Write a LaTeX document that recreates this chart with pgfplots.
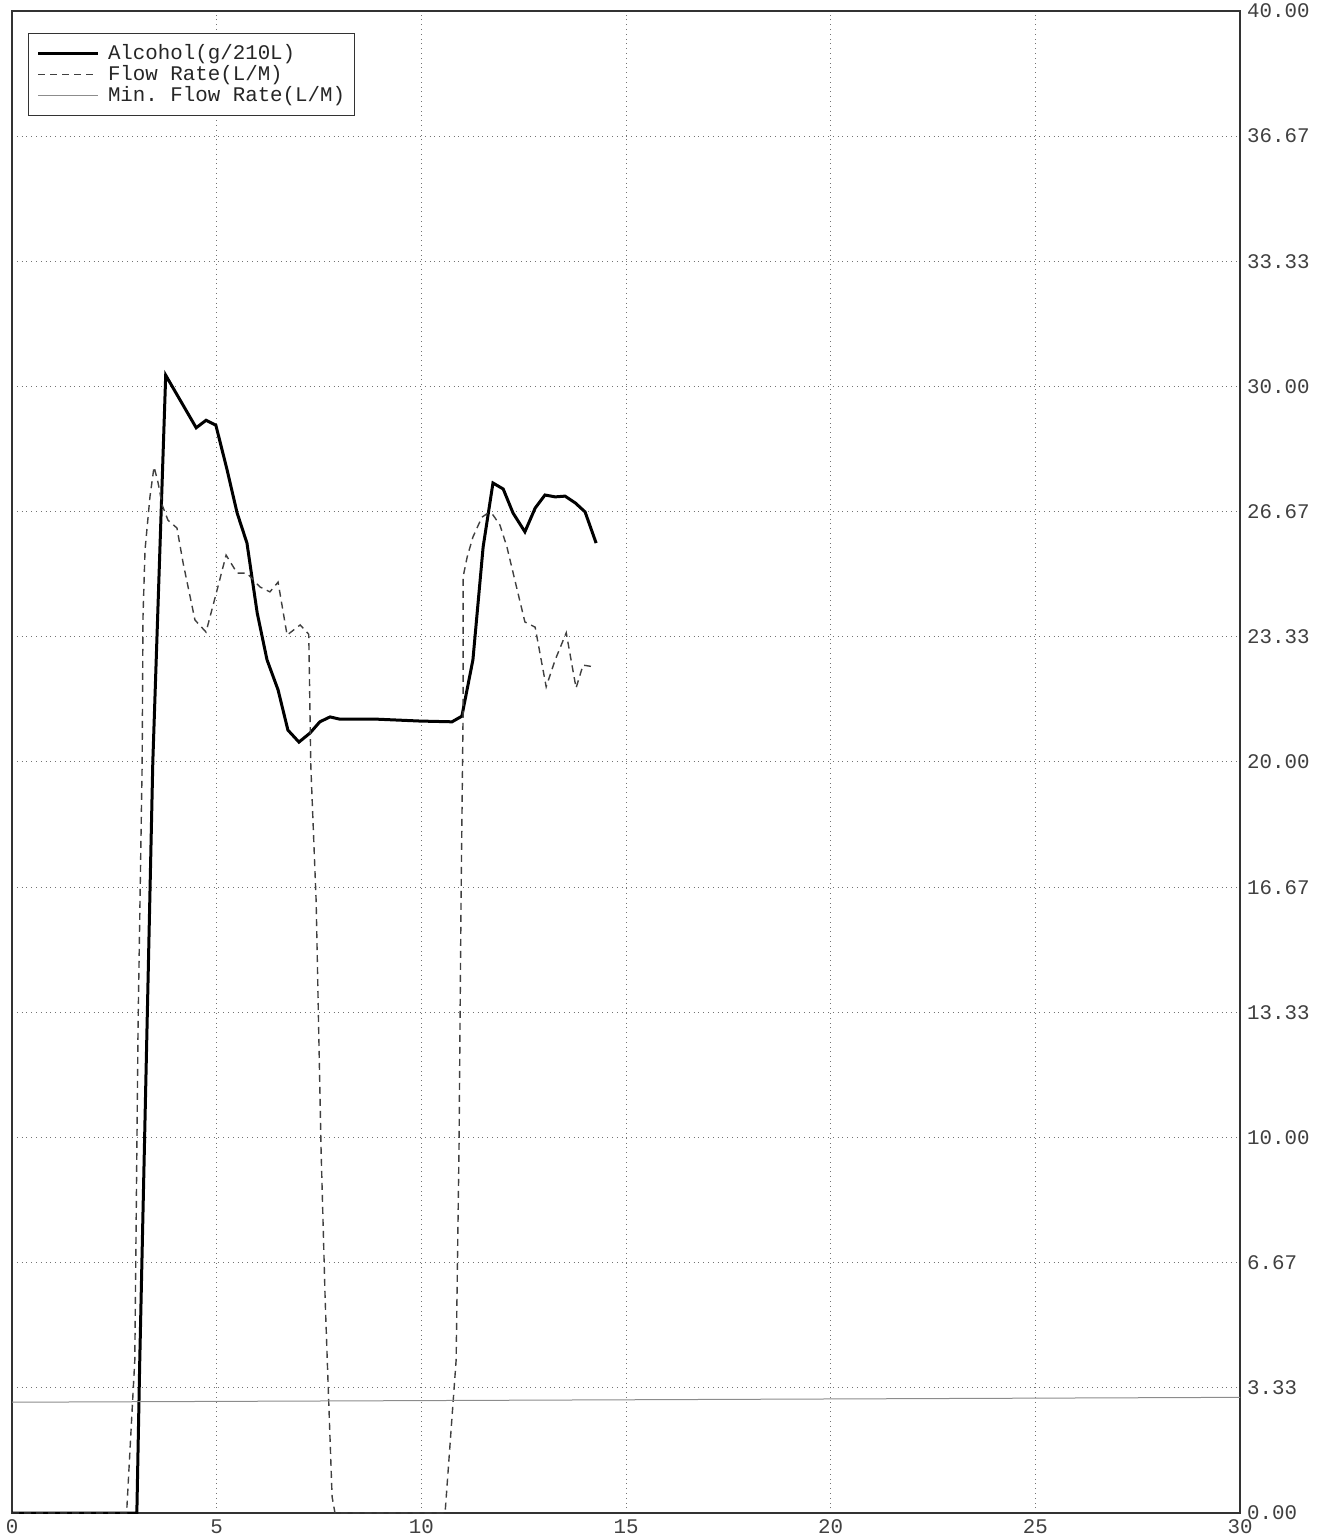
\documentclass[border=0pt]{standalone}
\usepackage{fontspec}
\setmainfont{Liberation Mono}
\setmonofont{Liberation Mono}
\usepackage{pgfplots}
\pgfplotsset{compat=1.18}
\begin{document}
\begin{tikzpicture}
\begin{axis}[name=ax,
  scale only axis, width=614pt, height=751pt,
  xmin=0, xmax=30, ymin=0, ymax=40,
  xtick={0,5,10,15,20,25,30}, xticklabels={0,5,10,15,20,25,30},
  ytick={0,3.3333,6.6667,10,13.3333,16.6667,20,23.3333,26.6667,30,33.3333,36.6667,40},
  yticklabels={0.00,3.33,6.67,10.00,13.33,16.67,20.00,23.33,26.67,30.00,33.33,36.67,40.00},
  yticklabel pos=right,
  major tick length=0pt,
  grid=major, major grid style={dotted, black!55, line width=0.5pt},
  axis line style={black!80, line width=0.6pt},
  tick label style={font=\fontsize{10.4}{10.4}\selectfont\ttfamily, text=black!75},
  legend style={at={(0,1)}, anchor=north west, xshift=8pt, yshift=-11pt,
    draw=black!80, line width=0.5pt, inner ysep=4pt, inner xsep=4pt,
    font=\fontsize{10.4}{10.4}\selectfont\ttfamily, text=black!85,
    row sep=-1.5pt,
    nodes={inner sep=0.75pt, text height=8.5pt, text depth=2pt}},
  legend cell align=left,
  legend image code/.code={\draw[#1] (0pt,0pt) -- (30pt,0pt); \path (33.5pt,0pt);},
]
\addplot[black, line width=1.5pt] coordinates {
(0,0) (3.05,0) (3.12,4) (3.44,20) (3.755,30.3) (4.5,28.9) (4.74,29.1) (4.98,28.97)
(5.25,27.8) (5.5,26.63) (5.74,25.83) (5.99,23.97) (6.23,22.72) (6.5,21.92) (6.74,20.85)
(7.01,20.53) (7.28,20.77) (7.52,21.07) (7.77,21.2) (8.01,21.14) (8.92,21.14) (9.97,21.09)
(10.75,21.07) (10.99,21.22) (11.26,22.72) (11.51,25.73) (11.75,27.43) (12.0,27.27)
(12.24,26.63) (12.53,26.13) (12.78,26.76) (13.02,27.11) (13.27,27.06) (13.51,27.08)
(13.76,26.90) (14.0,26.66) (14.27,25.83)};
\addlegendentry{Alcohol(g/210L)}
\addplot[black!75, line width=0.7pt, dash pattern=on 3.5pt off 2.5pt] coordinates {
(0,0) (2.8,0) (3.0,4.07) (3.08,13) (3.18,20) (3.2,23.86) (3.25,25.65) (3.37,27.06)
(3.47,27.86) (3.57,27.43) (3.67,26.84) (3.81,26.44) (4.03,26.23) (4.18,25.30) (4.47,23.78)
(4.74,23.46) (5.01,24.58) (5.23,25.51) (5.5,25.03) (5.74,25.03) (6.06,24.66) (6.3,24.53)
(6.5,24.79) (6.72,23.38) (7.04,23.65) (7.25,23.4) (7.3,19.9) (7.43,16.3) (7.55,9.7)
(7.65,5.7) (7.72,3.5) (7.82,0.43) (7.89,0) (10.58,0) (10.85,4.07) (10.92,9.67) (10.97,16.3)
(11.02,21.3) (11.02,24.93) (11.12,25.46) (11.26,25.99) (11.48,26.52) (11.63,26.63)
(11.75,26.58) (11.92,26.31) (12.09,25.73) (12.36,24.5) (12.53,23.73) (12.78,23.59)
(13.05,22.0) (13.27,22.72) (13.54,23.44) (13.78,21.97) (13.95,22.58) (14.24,22.53)};
\addlegendentry{Flow Rate(L/M)}
\addplot[black!45, line width=0.5pt] coordinates {(0,2.95) (30,3.08)};
\addlegendentry{Min. Flow Rate(L/M)}
\end{axis}
\pgfresetboundingbox
\path[use as bounding box] ([xshift=-6pt,yshift=-12.5pt]ax.south west) rectangle ([xshift=42pt,yshift=5.5pt]ax.north east);
\end{tikzpicture}
\end{document}
